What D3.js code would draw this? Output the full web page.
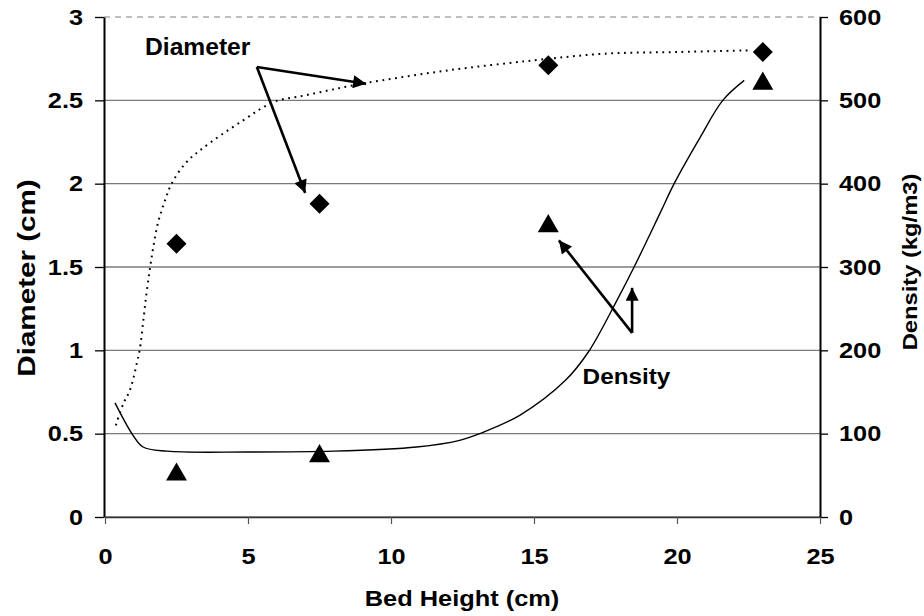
<!DOCTYPE html>
<html>
<head>
<meta charset="utf-8">
<script src="https://cdn.jsdelivr.net/npm/d3@7"></script>
<style>
  html, body { margin: 0; padding: 0; background: #fff; }
  svg { display: block; }
  text { font-family: "Liberation Sans", Arial, Helvetica, sans-serif; font-weight: bold; fill: #000; }
</style>
</head>
<body>
<svg id="chart" width="924" height="616"></svg>
<script>
// ---- data ----
const pointX = [2.5, 7.5, 15.5, 23];
const diameterPoints = [1.64, 1.88, 2.71, 2.79];      // cm (left axis)
const densityPoints = [51, 73, 349, 520];             // kg/m3 (right axis)

const diameterCurveX = [0.38, 0.64, 0.87, 1.11, 1.22, 1.34, 1.45, 1.57, 1.69, 1.86, 2.1, 2.33, 2.8, 3.32, 4.83, 5.9, 7.0, 9.0, 12.0, 15.0, 17.5, 20.0, 22.6];
const diameterCurveY = [0.55, 0.68, 0.76, 0.92, 1.01, 1.18, 1.34, 1.49, 1.62, 1.77, 1.90, 2.0, 2.12, 2.2, 2.38, 2.49, 2.53, 2.60, 2.68, 2.74, 2.78, 2.79, 2.80];

const densityCurveX = [0.35, 0.98, 1.33, 2.17, 5, 8, 10.9, 12.4, 13.1, 14.5, 16.1, 16.9, 17.9, 18.5, 19.4, 19.9, 20.8, 21.6, 22.35];
const densityCurveY = [137, 98, 84, 79, 78, 79, 84, 92, 100, 122, 164, 198, 260, 300, 364, 400, 455, 500, 524];

const xTicks = [0, 5, 10, 15, 20, 25];
const yLeftTicks = [0, 0.5, 1, 1.5, 2, 2.5, 3];
const yRightTicks = [0, 100, 200, 300, 400, 500, 600];

// annotations (data coordinates: x in cm bed height, y in diameter units)
const diameterLabel = { text: "Diameter", x: 1.4, y: 2.77 };
const diameterArrowFrom = { x: 5.31, y: 2.70 };
const diameterArrowTips = [{ x: 9.13, y: 2.60 }, { x: 7.0, y: 1.944 }];
// density annotation in right-axis units
const densityLabel = { text: "Density", x: 16.7, y: 160 };
const densityArrowFrom = { x: 18.43, y: 221 };
const densityArrowTips = [{ x: 18.43, y: 275 }, { x: 15.87, y: 332 }];

// ---- layout ----
const svg = d3.select("#chart");
const x = d3.scaleLinear().domain([0, 25]).range([105, 820]);
const yL = d3.scaleLinear().domain([0, 3]).range([517, 17]);
const yR = d3.scaleLinear().domain([0, 600]).range([517, 17]);

// widen text glyphs horizontally (reference type is an expanded Helvetica bold)
function stretch(sel, k) {
  sel.each(function () {
    const w = this.getComputedTextLength();
    d3.select(this).attr("textLength", w * k).attr("lengthAdjust", "spacingAndGlyphs");
  });
}

// defs: arrowhead
svg.append("defs").append("marker")
  .attr("id", "arrow")
  .attr("viewBox", "0 0 10 10")
  .attr("refX", 10).attr("refY", 5)
  .attr("markerUnits", "userSpaceOnUse")
  .attr("markerWidth", 16).attr("markerHeight", 13)
  .attr("orient", "auto")
  .append("path").attr("d", "M0,0 L10,5 L0,10 z").attr("fill", "#000");

// gridlines
svg.append("g").selectAll("line").data(yLeftTicks).join("line")
  .attr("x1", 104).attr("x2", 820)
  .attr("y1", d => yL(d)).attr("y2", d => yL(d))
  .attr("stroke", d => d === 3 ? "#aaa" : "#7a7a7a")
  .attr("stroke-width", 1.3)
  .attr("stroke-dasharray", d => d === 3 ? "6,5" : null);

// left axis
const gL = svg.append("g").attr("transform", "translate(104,0)")
  .call(d3.axisLeft(yL).tickValues(yLeftTicks).tickSize(9).tickPadding(12).tickFormat(d3.format("")).tickSizeOuter(0));
// right axis
const gR = svg.append("g").attr("transform", "translate(820,0)")
  .call(d3.axisRight(yR).tickValues(yRightTicks).tickSize(8).tickPadding(11).tickSizeOuter(0));
// bottom axis
const gB = svg.append("g").attr("transform", "translate(0,517)")
  .call(d3.axisBottom(x).tickValues(xTicks).tickSize(7).tickPadding(24).tickSizeOuter(0));

[gL, gR, gB].forEach(g => {
  g.selectAll("text").style("font-size", "22px").style("font-family", "'Liberation Sans', Arial, sans-serif").style("font-weight", "bold").attr("fill", "#000");
  stretch(g.selectAll("text"), 1.15);
  g.selectAll("line").attr("stroke", "#000").attr("stroke-width", 1.3);
});
gL.select(".domain").attr("stroke", "#000").attr("stroke-width", 2);
gR.select(".domain").attr("stroke", "#000").attr("stroke-width", 2);
gB.select(".domain").attr("stroke", "#333").attr("stroke-width", 1.6);
gB.selectAll(".tick line").attr("stroke", "#555").attr("stroke-width", 1.2);

// curves
const lineL = d3.line().x(d => x(d[0])).y(d => yL(d[1])).curve(d3.curveCatmullRom.alpha(0.5));
const lineR = d3.line().x(d => x(d[0])).y(d => yR(d[1])).curve(d3.curveCatmullRom.alpha(0.5));

svg.append("path")
  .datum(diameterCurveX.map((v, i) => [v, diameterCurveY[i]]))
  .attr("d", lineL).attr("fill", "none")
  .attr("stroke", "#000").attr("stroke-width", 2)
  .attr("stroke-dasharray", "1.8,4.6");

svg.append("path")
  .datum(densityCurveX.map((v, i) => [v, densityCurveY[i]]))
  .attr("d", lineR).attr("fill", "none")
  .attr("stroke", "#000").attr("stroke-width", 1.4);

// markers
const diamond = d3.symbol().type(d3.symbolSquare).size(200);
svg.append("g").selectAll("path").data(pointX).join("path")
  .attr("d", diamond)
  .attr("transform", (d, i) => `translate(${x(d)},${yL(diameterPoints[i])}) rotate(45)`)
  .attr("fill", "#000");

const tri = d3.symbol().type(d3.symbolTriangle).size(190);
svg.append("g").selectAll("path").data(pointX).join("path")
  .attr("d", tri)
  .attr("transform", (d, i) => `translate(${x(d)},${yR(densityPoints[i])})`)
  .attr("fill", "#000");

// annotations
const ann = svg.append("g");
diameterArrowTips.forEach(t => {
  ann.append("line")
    .attr("x1", x(diameterArrowFrom.x)).attr("y1", yL(diameterArrowFrom.y))
    .attr("x2", x(t.x)).attr("y2", yL(t.y))
    .attr("stroke", "#000").attr("stroke-width", 2.6)
    .attr("marker-end", "url(#arrow)");
});
densityArrowTips.forEach(t => {
  ann.append("line")
    .attr("x1", x(densityArrowFrom.x)).attr("y1", yR(densityArrowFrom.y))
    .attr("x2", x(t.x)).attr("y2", yR(t.y))
    .attr("stroke", "#000").attr("stroke-width", 2.6)
    .attr("marker-end", "url(#arrow)");
});
const tD = ann.append("text").attr("x", x(diameterLabel.x)).attr("y", yL(diameterLabel.y))
  .style("font-size", "23px").text(diameterLabel.text);
stretch(tD, 1.07);
const tN = ann.append("text").attr("x", x(densityLabel.x)).attr("y", yR(densityLabel.y))
  .style("font-size", "21.5px").text(densityLabel.text);
stretch(tN, 1.13);

// axis titles
const tX = svg.append("text").attr("x", 462).attr("y", 606).attr("text-anchor", "middle")
  .style("font-size", "21.5px").text("Bed Height (cm)");
stretch(tX, 1.18);
const tYL = svg.append("text").attr("transform", "translate(35,278) rotate(-90)").attr("text-anchor", "middle")
  .style("font-size", "23.5px").text("Diameter (cm)");
stretch(tYL, 1.26);
const tYR = svg.append("text").attr("transform", "translate(917,262) rotate(-90)").attr("text-anchor", "middle")
  .style("font-size", "21px").text("Density (kg/m3)");
stretch(tYR, 1.13);
</script>
</body>
</html>
